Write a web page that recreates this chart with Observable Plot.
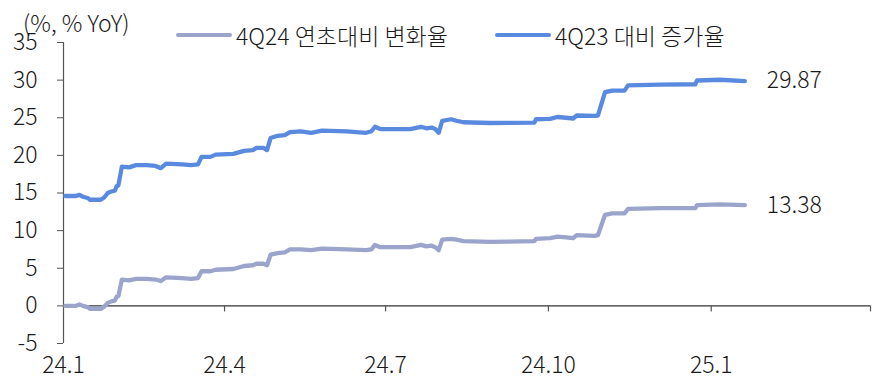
<!DOCTYPE html>
<html>
<head>
<meta charset="utf-8">
<script src="https://cdn.jsdelivr.net/npm/d3@7"></script>
<script src="https://cdn.jsdelivr.net/npm/@observablehq/plot@0.6"></script>
<style>
  html, body { margin: 0; padding: 0; background: #fff; }
  #wrap { position: relative; width: 882px; height: 382px; font-family: "Noto Sans CJK KR", "Noto Sans", sans-serif; font-weight: 300; color: #1a1a1a; }
  #chart svg text { font-weight: 300; }
  #unit { position: absolute; left: 23px; top: 7px; font-size: 23px; line-height: 30px; white-space: nowrap; }
  .leg { position: absolute; top: 20px; display: flex; align-items: center; font-size: 23px; line-height: 30px; white-space: nowrap; }
  .leg .sw { width: 56px; height: 4px; border-radius: 2px; margin-right: 4px; }
</style>
</head>
<body>
<div id="wrap">
  <div id="chart"></div>
  <div id="unit">(%, % YoY)</div>
  <div class="leg" id="leg1" style="left:176px"><span class="sw"></span><span class="tx"></span></div>
  <div class="leg" id="leg2" style="left:495px"><span class="sw"></span><span class="tx"></span></div>
</div>
<script>
// Series names and colours
const seriesNames = ["4Q24 연초대비 변화율", "4Q23 대비 증가율"];
const seriesColors = ["#9ba5cc", "#5a8ae0"];

// Observation dates
const dates = [
  "2024-01-02","2024-01-08","2024-01-10","2024-01-12","2024-01-15","2024-01-16","2024-01-22","2024-01-24",
  "2024-01-26","2024-01-28","2024-01-30","2024-01-31","2024-02-01","2024-02-03","2024-02-07","2024-02-11",
  "2024-02-17","2024-02-22","2024-02-25","2024-02-28","2024-03-08","2024-03-13","2024-03-17","2024-03-19",
  "2024-03-24","2024-03-27","2024-04-06","2024-04-09","2024-04-12","2024-04-17","2024-04-19","2024-04-23",
  "2024-04-25","2024-04-27","2024-05-01","2024-05-05","2024-05-08","2024-05-14","2024-05-20","2024-05-26",
  "2024-06-09","2024-06-20","2024-06-23","2024-06-25","2024-06-28","2024-07-15","2024-07-21","2024-07-24",
  "2024-07-27","2024-07-29","2024-07-31","2024-08-02","2024-08-07","2024-08-10","2024-08-14","2024-08-29",
  "2024-09-23","2024-09-24","2024-10-02","2024-10-06","2024-10-11","2024-10-15","2024-10-17","2024-10-27",
  "2024-10-29","2024-11-02","2024-11-06","2024-11-13","2024-11-15","2024-12-03","2024-12-23","2024-12-24",
  "2025-01-06","2025-01-20"
];

// 4Q24 change since start of year (%)
const ytdChange = [
  0.0, 0.0, 0.2, 0.0, -0.2, -0.4, -0.4, -0.1,
  0.4, 0.6, 0.7, 1.2, 1.3, 3.5, 3.4, 3.6,
  3.6, 3.5, 3.3, 3.8, 3.7, 3.6, 3.7, 4.6,
  4.6, 4.8, 4.9, 5.1, 5.3, 5.4, 5.6, 5.6,
  5.4, 6.8, 7.0, 7.1, 7.5, 7.5, 7.4, 7.6,
  7.5, 7.4, 7.5, 8.1, 7.8, 7.8, 8.1, 7.9,
  8.0, 7.8, 7.4, 8.8, 8.9, 8.8, 8.6, 8.5,
  8.6, 8.9, 9.0, 9.2, 9.1, 9.0, 9.4, 9.3,
  9.4, 12.1, 12.3, 12.3, 12.9, 13.0, 13.0, 13.4,
  13.5, 13.38
];

// Growth versus 4Q23 (%)
const vs4Q23 = [
  14.6, 14.6, 14.75, 14.5, 14.3, 14.1, 14.1, 14.4,
  15.0, 15.2, 15.3, 15.9, 16.0, 18.5, 18.4, 18.7,
  18.7, 18.6, 18.3, 18.9, 18.8, 18.7, 18.8, 19.8,
  19.8, 20.1, 20.2, 20.4, 20.6, 20.7, 21.0, 21.0,
  20.7, 22.3, 22.6, 22.7, 23.1, 23.2, 23.0, 23.3,
  23.2, 23.0, 23.2, 23.8, 23.5, 23.5, 23.8, 23.6,
  23.7, 23.5, 23.0, 24.6, 24.8, 24.6, 24.4, 24.3,
  24.35, 24.8, 24.85, 25.1, 25.0, 24.9, 25.3, 25.25,
  25.3, 28.4, 28.6, 28.6, 29.3, 29.4, 29.45, 29.95,
  30.05, 29.87
];

// Axis ticks
const xTickDates = ["2024-01-01","2024-04-01","2024-07-01","2024-10-01","2025-01-01","2025-04-01"];
const xTickLabels = ["24.1","24.4","24.7","24.10","25.1",""];
const yTicks = [-5, 0, 5, 10, 15, 20, 25, 30, 35];

const parse = d3.utcParse("%Y-%m-%d");
const xTicks = xTickDates.map(parse);
const labelOf = new Map(xTicks.map((d, i) => [+d, xTickLabels[i]]));

const rows = [];
dates.forEach((d, i) => {
  rows.push({date: parse(d), value: ytdChange[i], series: seriesNames[0]});
  rows.push({date: parse(d), value: vs4Q23[i], series: seriesNames[1]});
});
const lastRows = seriesNames.map(s => rows.filter(r => r.series === s).at(-1));

const font = "\"Noto Sans CJK KR\", \"Noto Sans\", sans-serif";

const chart = Plot.plot({
  width: 882,
  height: 382,
  marginLeft: 63,
  marginRight: 12,
  marginTop: 42,
  marginBottom: 39,
  style: {fontFamily: font, fontSize: "23px", color: "#1a1a1a", background: "#fff"},
  x: {type: "utc", domain: [xTicks[0], xTicks.at(-1)]},
  y: {domain: [-5, 35]},
  color: {domain: seriesNames, range: seriesColors},
  marks: [
    Plot.axisY({ticks: yTicks, tickSize: 6, tickPadding: 20, label: null, tickFormat: d => String(d), stroke: "#555", fill: "#1a1a1a", fontSize: 23}),
    Plot.axisX({ticks: xTicks, tickSize: 0, tickPadding: 13, label: null, tickFormat: d => labelOf.get(+d), fill: "#1a1a1a", fontSize: 23}),
    Plot.ruleX([xTicks[0]], {stroke: "#555", strokeWidth: 1.2}),
    Plot.ruleY([0], {stroke: "#333", strokeWidth: 1.2}),
    Plot.ruleX(xTicks.slice(1), {y1: 0, y2: -0.8, stroke: "#555", strokeWidth: 1.2}),
    Plot.line(rows, {x: "date", y: "value", z: "series", stroke: "series", strokeWidth: 4.3, strokeLinejoin: "round", strokeLinecap: "round"}),
    Plot.text(lastRows, {x: "date", y: "value", text: d => d.value.toFixed(2), dx: 22, textAnchor: "start", fill: "#1a1a1a", fontSize: 23})
  ]
});
document.getElementById("chart").appendChild(chart);

// Legend entries
["leg1", "leg2"].forEach((id, i) => {
  const el = document.getElementById(id);
  el.querySelector(".sw").style.background = seriesColors[i];
  el.querySelector(".tx").textContent = seriesNames[i];
});
</script>
</body>
</html>
